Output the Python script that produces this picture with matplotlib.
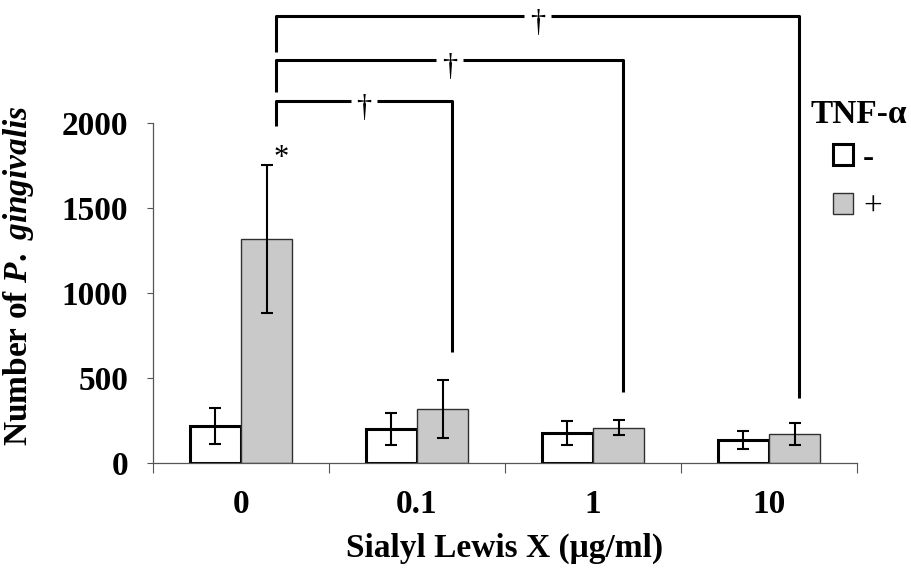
import matplotlib
matplotlib.use("Agg")
import matplotlib.pyplot as plt
import numpy as np

categories = ["0", "0.1", "1", "10"]
tnf_minus = [218, 200, 175, 135]
tnf_minus_err = [108, 94, 72, 55]
tnf_plus = [1320, 320, 208, 172]
tnf_plus_err = [435, 170, 45, 64]
series_labels = ["-", "+"]
yticks = [0, 500, 1000, 1500, 2000]

# significance brackets: start cat, end cat, height, left-drop end, right-drop end
br_start = [0, 0, 0]
br_end = [1, 2, 3]
br_height = [2130, 2370, 2630]
br_left_end = [1985, 2180, 2415]
br_right_end = [653, 418, 382]

plt.rcParams["font.family"] = ["Liberation Serif", "DejaVu Serif"]
plt.rcParams["mathtext.fontset"] = "custom"
plt.rcParams["mathtext.rm"] = "Liberation Serif:bold"
plt.rcParams["mathtext.it"] = "Liberation Serif:bold:italic"
plt.rcParams["mathtext.bf"] = "Liberation Serif:bold"

W, H = 911, 568
fig = plt.figure(figsize=(W / 100, H / 100), dpi=100)
ax = fig.add_axes([153 / W, (H - 463) / H, 704 / W, 340 / H])

x = np.arange(len(categories))
bw = 0.29
b1 = ax.bar(x - bw / 2, tnf_minus, bw, color="white", edgecolor="black",
            linewidth=2.2, zorder=2, label=series_labels[0])
b2 = ax.bar(x + bw / 2, tnf_plus, bw, color="#c9c9c9", edgecolor="#303030",
            linewidth=1.0, zorder=2, label=series_labels[1])
ax.errorbar(x - bw / 2, tnf_minus, yerr=tnf_minus_err, fmt="none",
            ecolor="black", elinewidth=1.5, capsize=4.5, capthick=1.5, zorder=3)
ax.errorbar(x + bw / 2, tnf_plus, yerr=tnf_plus_err, fmt="none",
            ecolor="black", elinewidth=1.5, capsize=4.5, capthick=1.5, zorder=3)

ax.set_xlim(-0.5, len(categories) - 0.5)
ax.set_ylim(0, 2000)
ax.set_yticks(yticks)
ax.set_yticklabels([str(t) for t in yticks], fontsize=24, fontweight="bold")
ax.set_xticks(x)
ax.set_xticklabels(categories, fontsize=24, fontweight="bold")
ax.set_xticks(np.arange(-0.5, len(categories)), minor=True)
ax.tick_params(axis="x", which="major", length=0, pad=19)
ax.tick_params(axis="x", which="minor", length=7, width=0.8, color="#555555", direction="out")
ax.tick_params(axis="y", length=4, width=0.8, color="#555555", pad=14)
for s in ["top", "right"]:
    ax.spines[s].set_visible(False)
for s in ["left", "bottom"]:
    ax.spines[s].set_color("#555555")
    ax.spines[s].set_linewidth(0.9)

ax.set_ylabel(r"$\mathrm{Number\ of\ }\mathit{P.\ gingivalis}$", fontsize=24)
ax.yaxis.set_label_coords(-0.166, 0.55)
ax.text(0.5, -0.25, "Sialyl Lewis X (μg/ml)", transform=ax.transAxes,
        ha="center", va="center", fontsize=24, fontweight="bold")

# significance brackets
gap = 0.075
for i, j, h, le, re in zip(br_start, br_end, br_height, br_left_end, br_right_end):
    xl = i + 0.2
    xr = j + (0.2 if j == 1 else 0.17)
    xm = (xl + xr) / 2
    ax.plot([xl, xl, xm - gap], [le, h, h], color="black", lw=2.2,
            clip_on=False, solid_capstyle="butt")
    ax.plot([xm + gap, xr, xr], [h, h, re], color="black", lw=2.2,
            clip_on=False, solid_capstyle="butt")
    ax.text(xm, h + 40, "†", ha="center", va="top", fontsize=22, clip_on=False)

ax.text(0.23, 1790, "*", ha="center", va="center", fontsize=22)

# legend
fig.text(907 / W, 1 - 114 / H, "TNF-α", fontsize=24, fontweight="bold",
         ha="right", va="center")
leg = ax.legend(handles=[b1, b2], labels=series_labels, loc="upper left",
                bbox_to_anchor=(833 / W, 1 - 143 / H), bbox_transform=fig.transFigure,
                frameon=False, fontsize=24, handlelength=0.6, handleheight=0.6,
                handletextpad=0.3, labelspacing=0.55, borderpad=0, borderaxespad=0)

fig.savefig("out.png", dpi=100)
